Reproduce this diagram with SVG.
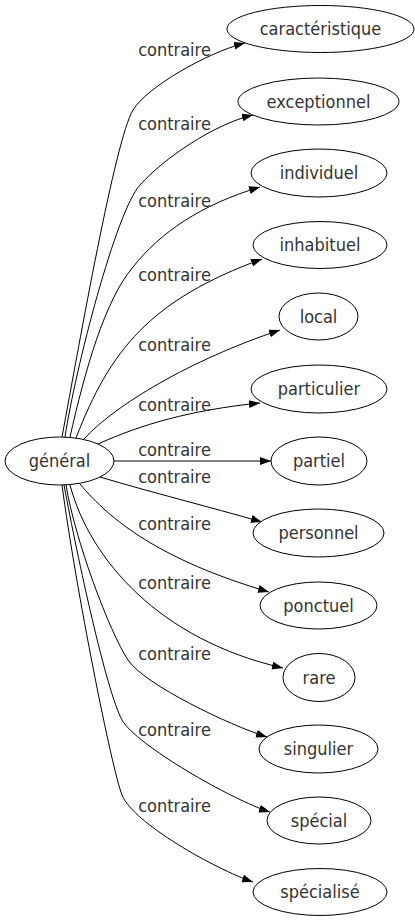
<svg xmlns="http://www.w3.org/2000/svg" width="415" height="923" viewBox="0 0 415 923">
<style>
.n ellipse{fill:#fff;stroke:#000;stroke-width:1}
text{font-family:"DejaVu Sans Condensed","DejaVu Sans",sans-serif;font-stretch:condensed;font-size:18px;fill:#333}
.n text{text-anchor:middle}
.l{text-anchor:middle}
.e path{fill:none;stroke:#000;stroke-width:1;marker-end:url(#a)}
</style>
<defs>
<marker id="a" markerUnits="userSpaceOnUse" markerWidth="12" markerHeight="9" refX="11" refY="4" orient="auto"><path d="M0,0 L11,4 L0,8 z" fill="#000"/></marker>
</defs>
<rect width="415" height="923" fill="#fff"/>
<g id="connectors" class="e">
<path d="M62,437 C80,340 115,140 133,110 C146,88 206,53 245,43"/>
<path d="M65,437 C75,370 116,211 140,185 C163,159 214,124 253,115"/>
<path d="M70,437 C85,370 105,300 133,267 C160,233 200,205 260,187"/>
<path d="M76,438 C110,350 150,300 262,259"/>
<path d="M84,439 C115,405 190,360 280,330"/>
<path d="M98,444 C140,425 190,410 260,403"/>
<path d="M114,461 L271,461"/>
<path d="M100,477 C150,492 210,507 262,522"/>
<path d="M80,484 C110,520 160,560 269,592"/>
<path d="M70,485 C90,560 160,640 283,668"/>
<path d="M66,485 C75,540 109,631 128,660 C145,685 229,725 267,737"/>
<path d="M64,485 C78,560 106,690 122,720 C136,745 232,800 270,812"/>
<path d="M62,485 C76,590 112,770 122,795 C133,823 215,869 253,882"/>
</g>
<g id="labels">
<text class="l" x="174.5" y="56">contraire</text>
<text class="l" x="174.5" y="130">contraire</text>
<text class="l" x="174.5" y="207">contraire</text>
<text class="l" x="174.5" y="281">contraire</text>
<text class="l" x="174.5" y="351">contraire</text>
<text class="l" x="174.5" y="411">contraire</text>
<text class="l" x="174.5" y="456">contraire</text>
<text class="l" x="174.5" y="483">contraire</text>
<text class="l" x="174.5" y="530">contraire</text>
<text class="l" x="174.5" y="589">contraire</text>
<text class="l" x="174.5" y="660">contraire</text>
<text class="l" x="174.5" y="736">contraire</text>
<text class="l" x="174.5" y="812">contraire</text>
</g>
<g id="general" class="n"><ellipse cx="59.5" cy="461" rx="54.5" ry="24"/><text x="59.5" y="467">général</text></g>
<g id="caracteristique" class="n"><ellipse cx="320.5" cy="29" rx="93.5" ry="23.5"/><text x="320.5" y="35">caractéristique</text></g>
<g id="exceptionnel" class="n"><ellipse cx="318.5" cy="101.5" rx="80.5" ry="23.5"/><text x="318.5" y="107.5">exceptionnel</text></g>
<g id="individuel" class="n"><ellipse cx="319" cy="173" rx="68" ry="24"/><text x="319" y="179">individuel</text></g>
<g id="inhabituel" class="n"><ellipse cx="320" cy="245" rx="67" ry="23.5"/><text x="320" y="251">inhabituel</text></g>
<g id="local" class="n"><ellipse cx="318.5" cy="316.5" rx="39.5" ry="23.5"/><text x="318.5" y="322.5">local</text></g>
<g id="particulier" class="n"><ellipse cx="319" cy="389" rx="68" ry="24"/><text x="319" y="395">particulier</text></g>
<g id="partiel" class="n"><ellipse cx="319" cy="461" rx="48" ry="24"/><text x="319" y="467">partiel</text></g>
<g id="personnel" class="n"><ellipse cx="318.5" cy="533" rx="65.5" ry="24"/><text x="318.5" y="539">personnel</text></g>
<g id="ponctuel" class="n"><ellipse cx="318.5" cy="605.5" rx="58.5" ry="23.5"/><text x="318.5" y="611.5">ponctuel</text></g>
<g id="rare" class="n"><ellipse cx="319" cy="677.5" rx="36" ry="24"/><text x="319" y="683.5">rare</text></g>
<g id="singulier" class="n"><ellipse cx="318.5" cy="749" rx="59.5" ry="24"/><text x="318.5" y="755">singulier</text></g>
<g id="special" class="n"><ellipse cx="319" cy="820.5" rx="52" ry="23.5"/><text x="319" y="826.5">spécial</text></g>
<g id="specialise" class="n"><ellipse cx="320" cy="892" rx="67" ry="23.5"/><text x="320" y="898">spécialisé</text></g>
</svg>
